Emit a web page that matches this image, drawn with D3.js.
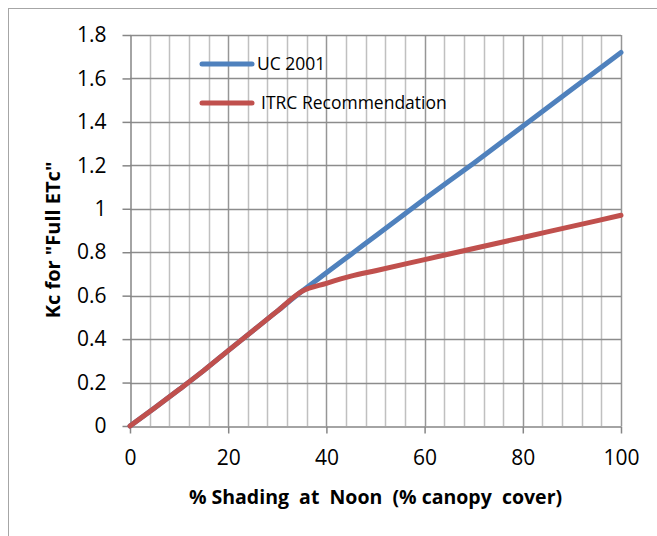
<!DOCTYPE html>
<html>
<head>
<meta charset="utf-8">
<script src="https://cdn.jsdelivr.net/npm/d3@7"></script>
<style>
  body { margin: 0; background: #fff; }
  svg text { font-family: "Open Sans", sans-serif; fill: #000; }
</style>
</head>
<body>
<svg id="chart" width="657" height="536"></svg>
<script>
// shading values (% canopy cover) and Kc of the two series
const shading = [0, 5, 10, 15, 20, 25, 30, 35, 40, 45, 50, 60, 70, 80, 90, 100];
const uc2001 = [0, 0.083, 0.168, 0.255, 0.347, 0.438, 0.529, 0.62, 0.705, 0.79, 0.875, 1.045, 1.21, 1.38, 1.55, 1.72];
const itrc   = [0, 0.083, 0.168, 0.255, 0.347, 0.438, 0.529, 0.62, 0.657, 0.69, 0.715, 0.766, 0.817, 0.868, 0.919, 0.97];
const seriesNames = ["UC 2001", "ITRC Recommendation"];
const seriesColors = ["#4F81BD", "#C0504D"];
const xTicks = [0, 20, 40, 60, 80, 100];
const yTicks = [0, 0.2, 0.4, 0.6, 0.8, 1, 1.2, 1.4, 1.6, 1.8];

const svg = d3.select("#chart");

// outer chart border
svg.append("rect")
  .attr("x", 8.5).attr("y", 8.5)
  .attr("width", 660).attr("height", 540)
  .attr("fill", "none").attr("stroke", "#a6a6a6");

const plot = {left: 130, right: 621, top: 35, bottom: 426};

const x = d3.scaleLinear().domain([0, 100]).range([plot.left, plot.right]);
const y = d3.scaleLinear().domain([0, 1.8]).range([plot.bottom, plot.top]);

// minor vertical grid every 4 units
const grid = svg.append("g");
grid.selectAll("line.minor")
  .data(d3.range(4, 100, 4).filter(v => v % 20 !== 0))
  .join("line")
  .attr("class", "minor")
  .attr("x1", d => Math.round(x(d)) + 0.5).attr("x2", d => Math.round(x(d)) + 0.5)
  .attr("y1", plot.top).attr("y2", plot.bottom)
  .attr("stroke", "#c0c0c0").attr("stroke-width", 1.5);

// major vertical grid
grid.selectAll("line.vmajor")
  .data(xTicks.slice(1))
  .join("line")
  .attr("class", "vmajor")
  .attr("x1", d => Math.round(x(d)) + 0.5).attr("x2", d => Math.round(x(d)) + 0.5)
  .attr("y1", plot.top).attr("y2", plot.bottom)
  .attr("stroke", "#969696").attr("stroke-width", 1.5);

// horizontal grid
grid.selectAll("line.hmajor")
  .data(yTicks.slice(1))
  .join("line")
  .attr("class", "hmajor")
  .attr("x1", plot.left).attr("x2", plot.right)
  .attr("y1", d => Math.round(y(d)) + 0.5).attr("y2", d => Math.round(y(d)) + 0.5)
  .attr("stroke", "#8c8c8c").attr("stroke-width", 1.5);

// axes
const xAxis = svg.append("g")
  .attr("transform", `translate(0,${plot.bottom + 0.5})`)
  .call(d3.axisBottom(x).tickValues(xTicks).tickSize(7).tickPadding(17).tickSizeOuter(0));
const yAxis = svg.append("g")
  .attr("transform", `translate(${plot.left + 0.5},0)`)
  .call(d3.axisLeft(y).tickValues(yTicks).tickSize(8).tickPadding(16).tickSizeOuter(0).tickFormat(d3.format("")));

[xAxis, yAxis].forEach(a => {
  a.attr("font-family", null).attr("font-size", null);
  a.select(".domain").attr("stroke", "#868686").attr("stroke-width", 1.5);
  a.selectAll(".tick line").attr("stroke", "#868686").attr("stroke-width", 1.5);
  a.selectAll(".tick text").attr("font-size", 21).attr("fill", "#000");
});

// series lines
const line = d3.line()
  .x(d => x(d[0]))
  .y(d => y(d[1]))
  .curve(d3.curveMonotoneX);

[uc2001, itrc].forEach((vals, i) => {
  svg.append("path")
    .datum(shading.map((s, j) => [s, vals[j]]))
    .attr("d", line)
    .attr("fill", "none")
    .attr("stroke", seriesColors[i])
    .attr("stroke-width", 5)
    .attr("stroke-linecap", "round")
    .attr("stroke-linejoin", "round");
});

// legend
const legend = svg.append("g");
seriesNames.forEach((name, i) => {
  const ly = 64 + i * 39;
  legend.append("line")
    .attr("x1", 202).attr("x2", 252)
    .attr("y1", ly).attr("y2", ly)
    .attr("stroke", seriesColors[i]).attr("stroke-width", 5)
    .attr("stroke-linecap", "round");
  legend.append("text")
    .attr("x", 257 + i * 4).attr("y", ly)
    .attr("dy", "0.35em")
    .attr("font-size", 17.5)
    .text(name);
});

// axis titles
svg.append("text")
  .attr("x", (plot.left + plot.right) / 2).attr("y", 497)
  .attr("dy", "0.35em")
  .attr("text-anchor", "middle")
  .attr("font-size", 19.5).attr("font-weight", "bold")
  .style("white-space", "pre")
  .text("% Shading  at  Noon  (% canopy  cover)");

svg.append("text")
  .attr("transform", "translate(53,240) rotate(-90)")
  .attr("dy", "0.35em")
  .attr("text-anchor", "middle")
  .attr("font-size", 20).attr("font-weight", "bold")
  .text("Kc for \"Full ETc\"");
</script>
</body>
</html>
